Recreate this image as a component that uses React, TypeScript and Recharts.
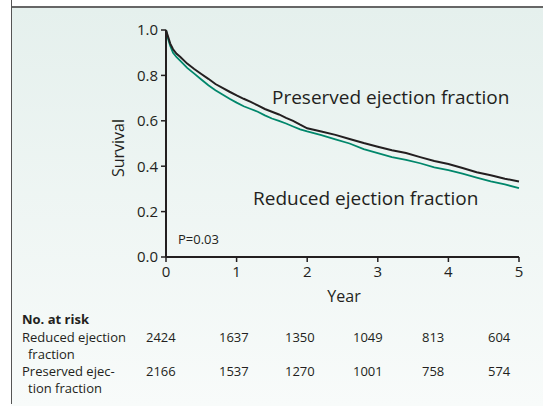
import React from "react";
import { LineChart, Line, XAxis, YAxis } from "recharts";

// survival estimates (time in years)
const years = [0, 0.03, 0.06, 0.1, 0.15, 0.2, 0.3, 0.4, 0.5, 0.6, 0.7, 0.8, 0.9, 1.0, 1.1, 1.2, 1.3, 1.4, 1.5, 1.6, 1.7, 1.8, 1.9, 2.0, 2.2, 2.4, 2.6, 2.8, 3.0, 3.2, 3.4, 3.6, 3.8, 4.0, 4.2, 4.4, 4.6, 4.8, 5.0];
const preserved = [1.0, 0.97, 0.94, 0.915, 0.895, 0.882, 0.852, 0.828, 0.806, 0.785, 0.762, 0.745, 0.728, 0.712, 0.697, 0.683, 0.668, 0.652, 0.64, 0.628, 0.613, 0.6, 0.583, 0.567, 0.553, 0.538, 0.52, 0.502, 0.486, 0.47, 0.458, 0.44, 0.423, 0.41, 0.392, 0.373, 0.36, 0.345, 0.333];
const reduced = [1.0, 0.96, 0.93, 0.9, 0.88, 0.865, 0.833, 0.808, 0.782, 0.757, 0.735, 0.716, 0.697, 0.68, 0.664, 0.652, 0.64, 0.624, 0.61, 0.6, 0.588, 0.575, 0.562, 0.553, 0.537, 0.518, 0.5, 0.475, 0.458, 0.44, 0.428, 0.413, 0.395, 0.383, 0.367, 0.35, 0.333, 0.32, 0.303];

const xTicks = [0, 1, 2, 3, 4, 5];
const yTicks = [0, 0.2, 0.4, 0.6, 0.8, 1.0];

const riskReduced = [2424, 1637, 1350, 1049, 813, 604];
const riskPreserved = [2166, 1537, 1270, 1001, 758, 574];

const data = years.map((t, i) => ({ t, preserved: preserved[i], reduced: reduced[i] }));

const ink = "#231f20";
const teal = "#00876b";
const colX = [146, 219, 285, 353, 422, 488];

export default function App() {
  return (
    <div style={{ position: "absolute", left: 0, top: 0, width: 543, height: 406, fontFamily: "'Open Sans', sans-serif", color: ink, overflow: "hidden", background: "#fff" }}>
      {/* panel background + frame */}
      <div style={{ position: "absolute", left: 11, top: 8, width: 532, height: 398, background: "linear-gradient(#e5f0ed, #f8fbfa)" }} />
      <div style={{ position: "absolute", left: 11, top: 6, width: 532, height: 2, background: "#666" }} />
      <div style={{ position: "absolute", left: 11, top: 0, width: 1, height: 404, background: "#555" }} />

      <div style={{ position: "absolute", left: 0, top: 0 }}>
        <LineChart width={543} height={406} data={data} margin={{ top: 30, right: 24, left: 116, bottom: 119 }}>
          <XAxis dataKey="t" type="number" domain={[0, 5]} ticks={xTicks} height={30}
            axisLine={{ stroke: ink, strokeWidth: 2 }} tickLine={{ stroke: ink, strokeWidth: 1.5 }}
            tickSize={5} tickMargin={4} tick={{ fontSize: 15, fill: ink }} />
          <YAxis type="number" domain={[0, 1]} ticks={yTicks} width={50}
            axisLine={{ stroke: ink, strokeWidth: 2 }} tickLine={{ stroke: ink, strokeWidth: 1.5 }}
            tickSize={5} tickMargin={3} tick={{ fontSize: 15, fill: ink }}
            tickFormatter={(v: number) => v.toFixed(1)} />
          <Line dataKey="reduced" type="linear" stroke={teal} strokeWidth={1.8} dot={false} isAnimationActive={false} />
          <Line dataKey="preserved" type="linear" stroke={ink} strokeWidth={2} dot={false} isAnimationActive={false} />
        </LineChart>
      </div>

      <svg width={543} height={406} style={{ position: "absolute", left: 0, top: 0 }}>
        <text x={118} y={148} transform="rotate(-90 118 148)" textAnchor="middle" dominantBaseline="central" fontSize={16} fill={ink}>Survival</text>
        <text x={344} y={296} textAnchor="middle" dominantBaseline="central" fontSize={16} fill={ink}>Year</text>
        <text x={272} y={97} dominantBaseline="central" fontSize={19} fill={ink}>Preserved ejection fraction</text>
        <text x={253} y={198} dominantBaseline="central" fontSize={19} fill={ink}>Reduced ejection fraction</text>
        <text x={178} y={239} dominantBaseline="central" fontSize={13} fill={ink}>P=0.03</text>

        <g fontSize={13} fill={ink}>
          <text x={22} y={319} dominantBaseline="central" fontWeight="bold">No. at risk</text>
          <text x={22} y={337} dominantBaseline="central">Reduced ejection</text>
          <text x={28} y={354} dominantBaseline="central">fraction</text>
          <text x={22} y={371} dominantBaseline="central">Preserved ejec-</text>
          <text x={28} y={388} dominantBaseline="central">tion fraction</text>
          {riskReduced.map((n, i) => (
            <text key={"r" + i} x={colX[i]} y={337} dominantBaseline="central">{n}</text>
          ))}
          {riskPreserved.map((n, i) => (
            <text key={"p" + i} x={colX[i]} y={371} dominantBaseline="central">{n}</text>
          ))}
        </g>
      </svg>
    </div>
  );
}
